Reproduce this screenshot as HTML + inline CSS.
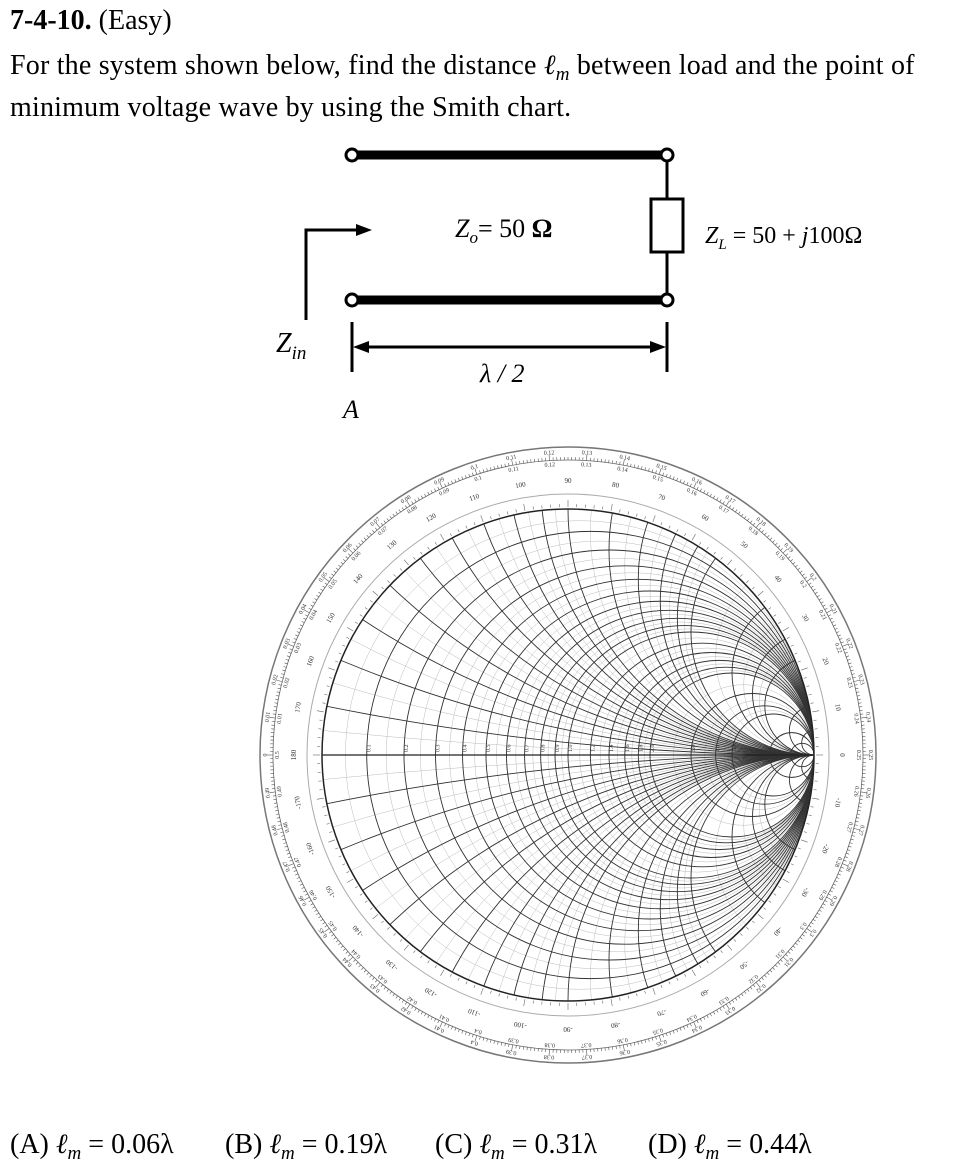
<!DOCTYPE html>
<html><head><meta charset="utf-8"><style>
html,body{margin:0;background:#fff;width:972px;height:1174px;overflow:hidden}
body{position:relative;font-family:"Liberation Serif",serif;color:#000}
.t{position:absolute;white-space:nowrap;font-size:28px;line-height:30px;height:30px}
.s{font-size:19px;position:relative;top:6px;line-height:0}
</style></head><body>
<div class="t" style="left:10px;top:6px"><b>7-4-10.</b> (Easy)</div>
<div class="t" style="left:10px;top:51px;letter-spacing:0.2px">For the system shown below, find the distance <i>ℓ<span class="s">m</span></i> between load and the point of</div>
<div class="t" style="left:10px;top:93px;letter-spacing:0.2px">minimum voltage wave by using the Smith chart.</div>

<svg style="position:absolute;left:0;top:0" width="972" height="430">
<g stroke="#000" fill="none">
<line x1="352" y1="155" x2="667" y2="155" stroke-width="9"/>
<line x1="352" y1="300" x2="667" y2="300" stroke-width="9"/>
<line x1="667" y1="155" x2="667" y2="300" stroke-width="3"/>
<rect x="651" y="199" width="32" height="53" fill="#fff" stroke-width="3"/>
<polyline points="306,320 306,230 360,230" stroke-width="3"/>
<line x1="352" y1="322" x2="352" y2="372" stroke-width="3"/>
<line x1="667" y1="322" x2="667" y2="372" stroke-width="3"/>
<line x1="365" y1="347" x2="655" y2="347" stroke-width="3"/>
</g>
<polygon points="372,230 356,224 356,236" fill="#000"/>
<polygon points="353,347 369,341 369,353" fill="#000"/>
<polygon points="666,347 650,341 650,353" fill="#000"/>
<g fill="#fff" stroke="#000" stroke-width="3">
<circle cx="352" cy="155" r="6"/><circle cx="667" cy="155" r="6"/>
<circle cx="352" cy="300" r="6"/><circle cx="667" cy="300" r="6"/>
</g>
<g font-family="Liberation Serif,serif" font-size="26">
<text x="455" y="237" font-style="italic">Z<tspan font-size="17" dy="6">o</tspan><tspan dy="-6" font-style="normal">= 50 </tspan><tspan font-weight="bold" font-style="normal">Ω</tspan></text>
<text x="705" y="243" font-size="24"><tspan font-style="italic">Z</tspan><tspan font-size="15" dy="6" font-style="italic">L</tspan><tspan dy="-6"> = 50 + </tspan><tspan font-style="italic">j</tspan>100Ω</text>
<text x="276" y="352" font-style="italic" font-size="28">Z<tspan font-size="19" dy="7">in</tspan></text>
<text x="480" y="382" font-style="italic">λ / 2</text>
<text x="343" y="418" font-style="italic">A</text>
</g>
</svg>

<svg id="sc" style="position:absolute;left:0;top:430px" width="972" height="660"></svg>

<div class="t" style="left:10px;top:1130px">(A) <i>ℓ<span class="s">m</span></i> = 0.06λ</div>
<div class="t" style="left:225px;top:1130px">(B) <i>ℓ<span class="s">m</span></i> = 0.19λ</div>
<div class="t" style="left:435px;top:1130px">(C) <i>ℓ<span class="s">m</span></i> = 0.31λ</div>
<div class="t" style="left:648px;top:1130px">(D) <i>ℓ<span class="s">m</span></i> = 0.44λ</div>

<script>
(function(){
var cx=568,cy=325,R=246;
var s='<defs><clipPath id="c"><circle cx="'+cx+'" cy="'+cy+'" r="'+R+'"/></clipPath></defs>';
s+='<circle cx="'+cx+'" cy="'+cy+'" r="308" fill="none" stroke="#777" stroke-width="1.5"/>';
s+='<circle cx="'+cx+'" cy="'+cy+'" r="261" fill="none" stroke="#aaa" stroke-width="1"/>';
s+='<circle cx="'+cx+'" cy="'+cy+'" r="295" fill="none" stroke="#666" stroke-width="0.8"/>';
for(var i=0;i<500;i++){var a=i/500*2*Math.PI,l=(i%10==0)?6:3;
 s+='<line x1="'+(cx+295*Math.cos(a))+'" y1="'+(cy+295*Math.sin(a))+'" x2="'+(cx+(295+l)*Math.cos(a))+'" y2="'+(cy+(295+l)*Math.sin(a))+'" stroke="#555" stroke-width="0.6"/>';}
for(var i=0;i<360;i+=2){var a=i*Math.PI/180,l=(i%10==0)?7:3;
 s+='<line x1="'+(cx+(R+2)*Math.cos(a))+'" y1="'+(cy+(R+2)*Math.sin(a))+'" x2="'+(cx+(R+2+l)*Math.cos(a))+'" y2="'+(cy+(R+2+l)*Math.sin(a))+'" stroke="#666" stroke-width="0.6"/>';}
for(var k=0;k<50;k++){var wl=k*0.01,a=Math.PI-wl*4*Math.PI;
 var lx=cx+301*Math.cos(a),ly=cy-301*Math.sin(a);
 s+='<text x="'+lx+'" y="'+ly+'" font-size="6" fill="#333" text-anchor="middle" transform="rotate('+(90-a*180/Math.PI)+' '+lx+' '+ly+')">'+(Math.round(wl*100)/100)+'</text>';
 var lx2=cx+289*Math.cos(a),ly2=cy+289*Math.sin(a);
 s+='<text x="'+lx2+'" y="'+ly2+'" font-size="6" fill="#333" text-anchor="middle" transform="rotate('+(a*180/Math.PI+90)+' '+lx2+' '+ly2+')">'+(Math.round((0.5-wl)*100)/100)+'</text>';}
for(var d=-170;d<=180;d+=10){var a=d*Math.PI/180,lx=cx+272*Math.cos(a),ly=cy-272*Math.sin(a);
 s+='<text x="'+lx+'" y="'+ly+'" font-size="7" fill="#333" text-anchor="middle" transform="rotate('+(90-d)+' '+lx+' '+ly+')">'+d+'</text>';}
s+='<g clip-path="url(#c)" fill="none">';
function rc(r,w,c){var ccx=cx+R*r/(1+r),rr=R/(1+r);return '<circle cx="'+ccx+'" cy="'+cy+'" r="'+rr+'" stroke="'+c+'" stroke-width="'+w+'"/>';}
function xc(x,w,c){var rr=R/x;return '<circle cx="'+(cx+R)+'" cy="'+(cy-rr)+'" r="'+rr+'" stroke="'+c+'" stroke-width="'+w+'"/><circle cx="'+(cx+R)+'" cy="'+(cy+rr)+'" r="'+rr+'" stroke="'+c+'" stroke-width="'+w+'"/>';}
var light=[];for(var v=0.05;v<1;v+=0.05)light.push(v);for(var v=1.1;v<2;v+=0.2)light.push(v);[2.5,3.5,4.5].forEach(function(v){light.push(v)});
light.forEach(function(v){s+=rc(v,0.5,'#bbb')+xc(v,0.5,'#bbb');});
var bold=[0.1,0.2,0.3,0.4,0.5,0.6,0.7,0.8,0.9,1,1.2,1.4,1.6,1.8,2,3,4,5,10,20];
bold.forEach(function(v){s+=rc(v,0.9,'#333')+xc(v,0.9,'#333');});
s+='<line x1="'+(cx-R)+'" y1="'+cy+'" x2="'+(cx+R)+'" y2="'+cy+'" stroke="#222" stroke-width="1.3"/>';
s+='</g>';
s+='<circle cx="'+cx+'" cy="'+cy+'" r="'+R+'" fill="none" stroke="#222" stroke-width="1.5"/>';
[0.1,0.2,0.3,0.4,0.5,0.6,0.7,0.8,0.9,1,1.2,1.4,1.6,1.8,2,3,4,5].forEach(function(v){
 var x=cx+R*(v-1)/(v+1)+4;s+='<text x="'+x+'" y="'+(cy-3)+'" font-size="6" fill="#333" transform="rotate(-90 '+x+' '+(cy-3)+')">'+(v>=1&&v%1==0?v+'.0':v)+'</text>';});
document.getElementById('sc').innerHTML=s;
})();
</script>
</body></html>
